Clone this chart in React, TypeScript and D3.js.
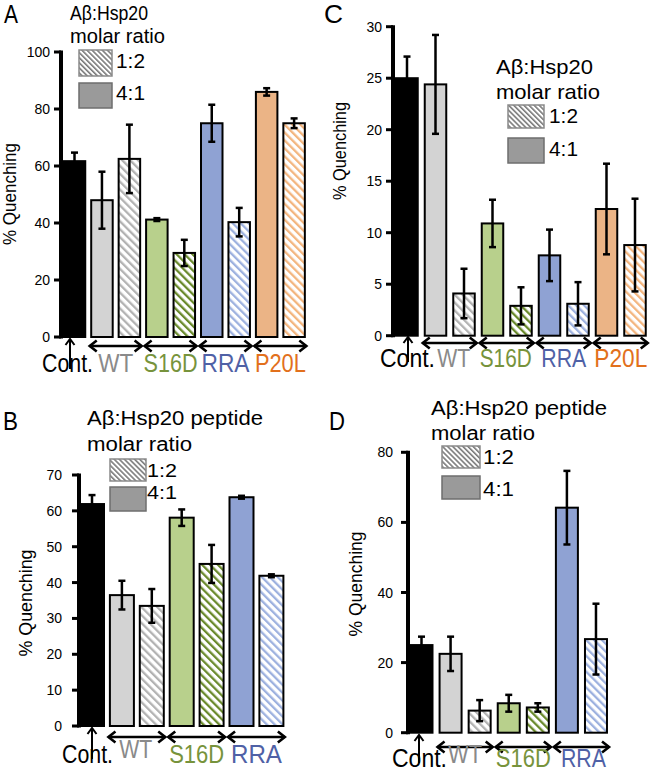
import React from 'react';
import * as d3 from 'd3';

const FONT = '"Liberation Sans", Arial, Helvetica, sans-serif';

// ---------- data ----------
const groupsAC = ['WT', 'S16D', 'RRA', 'P20L'];
const groupsBD = ['WT', 'S16D', 'RRA'];
const legendLabels = ['1:2', '4:1'];

// Panel A
const ticksA = [0, 20, 40, 60, 80, 100];
const contA = 61.7;
const contErrA = 3.0;
const valA41 = [48, 41.2, 75, 86];
const errA41 = [10, 0.5, 6.5, 1.3];
const valA12 = [62.5, 29.5, 40.3, 75];
const errA12 = [12, 4.6, 5, 1.7];

// Panel C
const ticksC = [0, 5, 10, 15, 20, 25, 30];
const contC = 25;
const contErrC = 2.1;
const valC41 = [24.4, 10.9, 7.8, 12.3];
const errC41 = [4.8, 2.3, 2.5, 4.4];
const valC12 = [4.1, 2.9, 3.1, 8.8];
const errC12 = [2.4, 1.8, 2.1, 4.5];

// Panel B
const ticksB = [0, 10, 20, 30, 40, 50, 60, 70];
const contB = 61.9;
const contErrB = 2.5;
const valB41 = [36.5, 58.1, 63.8];
const errB41 = [4, 2.3, 0.4];
const valB12 = [33.5, 45.2, 41.9];
const errB12 = [4.7, 5.3, 0.4];

// Panel D
const ticksD = [0, 20, 40, 60, 80];
const contD = 25;
const contErrD = 2.4;
const valD41 = [22.5, 8.4, 64.2];
const errD41 = [4.9, 2.4, 10.5];
const valD12 = [6.3, 7.2, 26.7];
const errD12 = [3, 1.2, 10.1];

// ---------- styles ----------
const groupFill: Record<string, string> = { WT: '#d3d3d3', S16D: '#b8d08c', RRA: '#8fa2d3', P20L: '#ebb486' };
const groupHatch: Record<string, string> = { WT: '#b2b2b2', S16D: '#6a8a2c', RRA: '#9db1df', P20L: '#f3b57e' };
const groupText: Record<string, string> = { WT: '#8a8a8a', S16D: '#77933c', RRA: '#4f61a6', P20L: '#e2701c' };

type Cfg = {
  letter: string; letterX: number; letterY: number; letterW: number;
  groups: string[]; ticks: number[]; max: number;
  cont: number; contErr: number; v41: number[]; e41: number[]; v12: number[]; e12: number[];
  axisX: number; y0: number; yTop: number; c0: number; step: number; barW: number;
  tickRight: number;
  yLab: { x: number; y: number; len: number };
  arrowY: number; labelY: number; labelDy: Record<string, number>; labelDx: Record<string, number>;
  labelW: Record<string, number>; contLabelX: number; upX: number; upTip: number; upBottom: number;
  title: { text: string; x: number; y: number; w: number }[]; titleSize: number;
  legend: { boxX: number; boxW: number; hY: number; hH: number; sY: number; sH: number; labX: number; lab1Y: number; lab2Y: number; labW: number; size: number };
};

function Txt(p: { x: number; y: number; size: number; w?: number; anchor?: string; fill?: string; children: React.ReactNode; transform?: string }) {
  return (
    <text
      x={p.x}
      y={p.y}
      fontSize={p.size}
      fontFamily={FONT}
      fill={p.fill || '#000'}
      textAnchor={p.anchor || 'start'}
      textLength={p.w}
      lengthAdjust={p.w ? 'spacingAndGlyphs' : undefined}
      transform={p.transform}
    >
      {p.children}
    </text>
  );
}

function DoubleArrow({ x1, x2, y }: { x1: number; x2: number; y: number }) {
  const hl = 8, hw = 5.5;
  return (
    <g stroke="#000" strokeWidth={2.6} fill="none" strokeLinecap="butt" strokeLinejoin="miter">
      <line x1={x1 + 1} x2={x2 - 1} y1={y} y2={y} />
      <path d={`M${x1 + hl},${y - hw} L${x1 + 1},${y} L${x1 + hl},${y + hw}`} />
      <path d={`M${x2 - hl},${y - hw} L${x2 - 1},${y} L${x2 - hl},${y + hw}`} />
    </g>
  );
}

function Panel({ cfg }: { cfg: Cfg }) {
  const slots = ['Cont', ...cfg.groups.flatMap((g) => [g + '|41', g + '|12'])];
  const n = slots.length;
  const pad = 1 - cfg.barW / cfg.step;
  const start = cfg.c0 - cfg.step / 2;
  const x = d3.scaleBand<string>().domain(slots).range([start, start + n * cfg.step]).paddingInner(pad).paddingOuter(pad / 2);
  const y = d3.scaleLinear().domain([0, cfg.max]).range([cfg.y0, cfg.yTop]);
  const bw = x.bandwidth();

  const bars = [
    { slot: 'Cont', v: cfg.cont, e: cfg.contErr, kind: 'cont', g: '' },
    ...cfg.groups.flatMap((g, i) => [
      { slot: g + '|41', v: cfg.v41[i], e: cfg.e41[i], kind: 'solid', g },
      { slot: g + '|12', v: cfg.v12[i], e: cfg.e12[i], kind: 'hatch', g },
    ]),
  ];

  const L = cfg.legend;
  return (
    <g>
      {/* panel letter */}
      <Txt x={cfg.letterX} y={cfg.letterY} size={25} w={cfg.letterW}>{cfg.letter}</Txt>
      {/* title */}
      {cfg.title.map((t, i) => (
        <Txt key={i} x={t.x} y={t.y} size={cfg.titleSize} w={t.w}>{t.text}</Txt>
      ))}
      {/* legend */}
      <rect x={L.boxX} y={L.hY} width={L.boxW} height={L.hH} fill="url(#hatch-legend)" stroke="#8a8a8a" strokeWidth={1.5} />
      <rect x={L.boxX} y={L.sY} width={L.boxW} height={L.sH} fill="#9a9a9a" stroke="#6e6e6e" strokeWidth={1.5} />
      <Txt x={L.labX} y={L.lab1Y} size={L.size} w={L.labW}>{legendLabels[0]}</Txt>
      <Txt x={L.labX} y={L.lab2Y} size={L.size} w={L.labW}>{legendLabels[1]}</Txt>

      {/* bars */}
      {bars.map((b) => {
        const bx = b.kind === 'cont' ? cfg.axisX : (x(b.slot) as number);
        const right = (x(b.slot) as number) + bw;
        const fill = b.kind === 'cont' ? '#000' : b.kind === 'solid' ? groupFill[b.g] : `url(#hatch-${b.g})`;
        return (
          <rect key={b.slot} x={bx} y={y(b.v)} width={right - bx} height={y(0) - y(b.v)} fill={fill} stroke="#000" strokeWidth={2} />
        );
      })}
      {/* error bars */}
      {bars.map((b) => {
        const cx = (x(b.slot) as number) + bw / 2;
        const yt = y(b.v + b.e);
        const yb = y(b.v - b.e);
        return (
          <g key={'e' + b.slot} stroke="#000" strokeWidth={2.5}>
            <line x1={cx} x2={cx} y1={yt} y2={yb} />
            <line x1={cx - 3.5} x2={cx + 3.5} y1={yt} y2={yt} />
            <line x1={cx - 3.5} x2={cx + 3.5} y1={yb} y2={yb} />
          </g>
        );
      })}

      {/* axis */}
      <line x1={cfg.axisX} x2={cfg.axisX} y1={y(0) + 1.5} y2={y(cfg.max) - 1.5} stroke="#000" strokeWidth={4} />
      {cfg.ticks.map((t) => (
        <g key={t}>
          <line x1={cfg.axisX - 7} x2={cfg.axisX} y1={y(t)} y2={y(t)} stroke="#000" strokeWidth={3} />
          <Txt x={cfg.tickRight} y={y(t) + 5} size={14} anchor="end">{String(t)}</Txt>
        </g>
      ))}
      {/* y label */}
      <Txt x={0} y={0} size={18} w={cfg.yLab.len} anchor="middle" transform={`translate(${cfg.yLab.x},${cfg.yLab.y}) rotate(-90)`}>
        % Quenching
      </Txt>

      {/* group arrows and labels */}
      {cfg.groups.map((g, i) => {
        const x1 = cfg.c0 + (2 * i + 0.5) * cfg.step + 0.5;
        const x2 = cfg.c0 + (2 * i + 2.5) * cfg.step - 0.5;
        return (
          <g key={'a' + g}>
            <DoubleArrow x1={x1} x2={x2} y={cfg.arrowY} />
            <Txt
              x={(x1 + x2) / 2 + (cfg.labelDx[g] || 0)}
              y={cfg.labelY + (cfg.labelDy[g] || 0)}
              size={25}
              w={cfg.labelW[g]}
              anchor="middle"
              fill={groupText[g]}
            >
              {g}
            </Txt>
          </g>
        );
      })}
      {/* control arrow and label */}
      <Txt x={cfg.contLabelX} y={cfg.labelY} size={25} w={cfg.labelW.Cont} anchor="middle">Cont.</Txt>
      <g stroke="#000" strokeWidth={2} fill="none">
        <line x1={cfg.upX} x2={cfg.upX} y1={cfg.upTip + 1} y2={cfg.upBottom} />
        <path d={`M${cfg.upX - 4.5},${cfg.upTip + 6} L${cfg.upX},${cfg.upTip} L${cfg.upX + 4.5},${cfg.upTip + 6}`} />
      </g>
    </g>
  );
}

const cfgA: Cfg = {
  letter: 'A', letterX: 4, letterY: 23, letterW: 14,
  groups: groupsAC, ticks: ticksA, max: 100,
  cont: contA, contErr: contErrA, v41: valA41, e41: errA41, v12: valA12, e12: errA12,
  axisX: 61, y0: 337, yTop: 52, c0: 74.5, step: 27.45, barW: 21.5,
  tickRight: 50,
  yLab: { x: 16, y: 194, len: 102 },
  arrowY: 346, labelY: 372, labelDy: {}, labelDx: {},
  labelW: { Cont: 51, WT: 35, S16D: 54, RRA: 48, P20L: 51 }, contLabelX: 67.5, upX: 70, upTip: 339, upBottom: 369,
  title: [
    { text: 'Aβ:Hsp20', x: 70, y: 20, w: 78 },
    { text: 'molar ratio', x: 70, y: 43, w: 95 },
  ],
  titleSize: 20.5,
  legend: { boxX: 79, boxW: 33, hY: 50, hH: 26, sY: 83, sH: 25, labX: 116, lab1Y: 68, lab2Y: 100, labW: 29, size: 21 },
};

const cfgC: Cfg = {
  letter: 'C', letterX: 324, letterY: 23, letterW: 19,
  groups: groupsAC, ticks: ticksC, max: 30,
  cont: contC, contErr: contErrC, v41: valC41, e41: errC41, v12: valC12, e12: errC12,
  axisX: 393, y0: 335.7, yTop: 26.7, c0: 407, step: 28.5, barW: 21.5,
  tickRight: 382,
  yLab: { x: 346, y: 151, len: 98 },
  arrowY: 343, labelY: 367, labelDy: {}, labelDx: { WT: 4, S16D: -1 },
  labelW: { Cont: 55, WT: 33, S16D: 52, RRA: 45, P20L: 53 }, contLabelX: 407.5, upX: 408, upTip: 337, upBottom: 362,
  title: [
    { text: 'Aβ:Hsp20', x: 496, y: 74, w: 97 },
    { text: 'molar ratio', x: 496, y: 99, w: 104 },
  ],
  titleSize: 21,
  legend: { boxX: 508, boxW: 36, hY: 105, hH: 23, sY: 138, sH: 25, labX: 549, lab1Y: 123, lab2Y: 156, labW: 29, size: 21 },
};

const cfgB: Cfg = {
  letter: 'B', letterX: 3, letterY: 430, letterW: 15,
  groups: groupsBD, ticks: ticksB, max: 70,
  cont: contB, contErr: contErrB, v41: valB41, e41: errB41, v12: valB12, e12: errB12,
  axisX: 79, y0: 726, yTop: 475, c0: 92, step: 29.9, barW: 24,
  tickRight: 62,
  yLab: { x: 32, y: 603, len: 107 },
  arrowY: 737, labelY: 763, labelDy: { WT: -5 }, labelDx: { WT: -1 },
  labelW: { Cont: 51, WT: 33, S16D: 55, RRA: 51 }, contLabelX: 87.5, upX: 92, upTip: 728, upBottom: 759,
  title: [
    { text: 'Aβ:Hsp20 peptide', x: 87, y: 425, w: 176 },
    { text: 'molar ratio', x: 87, y: 451, w: 105 },
  ],
  titleSize: 20,
  legend: { boxX: 110, boxW: 36, hY: 459, hH: 22, sY: 487, sH: 24, labX: 147, lab1Y: 477, lab2Y: 499, labW: 30, size: 19 },
};

const cfgD: Cfg = {
  letter: 'D', letterX: 329, letterY: 430, letterW: 16,
  groups: groupsBD, ticks: ticksD, max: 80,
  cont: contD, contErr: contErrD, v41: valD41, e41: errD41, v12: valD12, e12: errD12,
  axisX: 408, y0: 732.7, yTop: 452.3, c0: 421.5, step: 29.08, barW: 22,
  tickRight: 393,
  yLab: { x: 362, y: 584, len: 105 },
  arrowY: 747, labelY: 767, labelDy: { WT: -4 }, labelDx: { WT: 0, RRA: 2 },
  labelW: { Cont: 55, WT: 34, S16D: 55, RRA: 45 }, contLabelX: 419.5, upX: 419, upTip: 735, upBottom: 763,
  title: [
    { text: 'Aβ:Hsp20 peptide', x: 431, y: 415, w: 176 },
    { text: 'molar ratio', x: 431, y: 440, w: 104 },
  ],
  titleSize: 20,
  legend: { boxX: 442, boxW: 38, hY: 446, hH: 22, sY: 476, sH: 23, labX: 483, lab1Y: 464, lab2Y: 496, labW: 31, size: 20 },
};

export default function App() {
  const hatchGroups = Object.keys(groupHatch);
  return (
    <svg
      width={652}
      height={773}
      viewBox="0 0 652 773"
      style={{ position: 'absolute', left: 0, top: 0, background: '#fff' }}
    >
      <defs>
        {hatchGroups.map((g) => (
          <pattern key={g} id={`hatch-${g}`} patternUnits="userSpaceOnUse" width={5.6} height={10} patternTransform="rotate(-45)">
            <rect x={0} y={0} width={5.6} height={10} fill="#fff" />
            <rect x={0} y={0} width={2.3} height={10} fill={groupHatch[g]} />
          </pattern>
        ))}
        <pattern id="hatch-legend" patternUnits="userSpaceOnUse" width={3.6} height={10} patternTransform="rotate(-45)">
          <rect x={0} y={0} width={3.6} height={10} fill="#fff" />
          <rect x={0} y={0} width={1.6} height={10} fill="#7a7a7a" />
        </pattern>
      </defs>
      <rect x={0} y={0} width={652} height={773} fill="#fff" />
      <Panel cfg={cfgA} />
      <Panel cfg={cfgC} />
      <Panel cfg={cfgB} />
      <Panel cfg={cfgD} />
    </svg>
  );
}
